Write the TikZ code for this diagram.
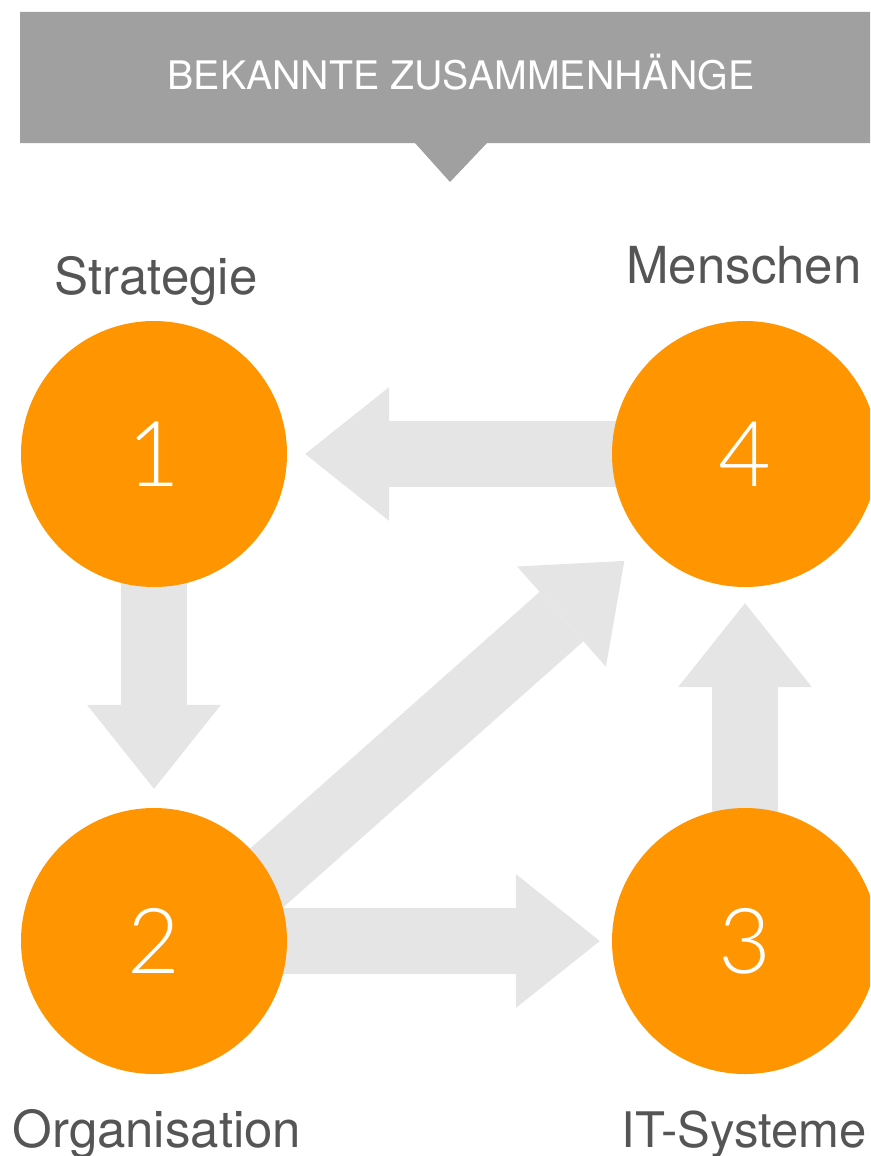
\documentclass[tikz,border=0pt]{standalone}
\usepackage{fontspec}
\setmainfont{TeX Gyre Heros}
\newfontfamily\numfont{Lato Light}
\usetikzlibrary{backgrounds,calc,arrows.meta}
\definecolor{orng}{HTML}{FF9500}
\definecolor{arrgrey}{HTML}{E5E5E5}
\definecolor{bannergrey}{HTML}{A0A0A0}
\definecolor{labelgrey}{HTML}{555555}
\tikzset{
  ball/.style={circle, fill=orng, minimum size=266pt, inner sep=0pt, text=white, font=\numfont\fontsize{91}{91}\selectfont},
  label text/.style={anchor=base, text=labelgrey, inner sep=0pt, font=\fontsize{51}{51}\selectfont},
  bigarrow/.style={draw=arrgrey, line width=66pt, -{Triangle[width=134pt,length=84pt,line width=0pt]}},
}
\begin{document}
\begin{tikzpicture}[x=1pt,y=-1pt]
\useasboundingbox (0,0) rectangle (870,1156);
\clip (0,0) rectangle (870,1156);
% banner
\fill[bannergrey] (20,12) -- (880,12) -- (880,143) -- (487,143) -- (450,182) -- (415,143) -- (20,143) -- cycle;
\node[anchor=base, text=white, inner sep=0pt, font=\fontsize{39.3}{39.3}\selectfont] (title) at (461,89) {BEKANNTE ZUSAMMENHÄNGE};
% circles
\node[ball] (c1) at (154,454) {1};
\node[ball] (c4) at (745,454) {4};
\node[ball] (c2) at (154,941) {2};
\node[ball] (c3) at (745,941) {3};
\coordinate (d0) at (200,937);
% arrows
\begin{scope}[on background layer]
\draw[bigarrow, shorten >=18pt] (c4.center) -- (c1);
\draw[bigarrow, shorten >=19pt] (c1.center) -- (c2);
\draw[bigarrow, shorten >=12pt] (c2.center) -- (c3);
\draw[bigarrow, shorten >=16pt] (c3.center) -- (c4);
\draw[bigarrow, shorten >=28pt] (d0) -- (c4);
\end{scope}
% labels
\node[label text] (l1) at (156,294) {Strategie};
\node[label text] (l4) at (744,283) {Menschen};
\node[label text] (l2) at (157,1147) {Organisation};
\node[label text, anchor=base east, font=\fontsize{49}{49}\selectfont] (l3) at (867,1147) {IT-Systeme};
\end{tikzpicture}
\end{document}
